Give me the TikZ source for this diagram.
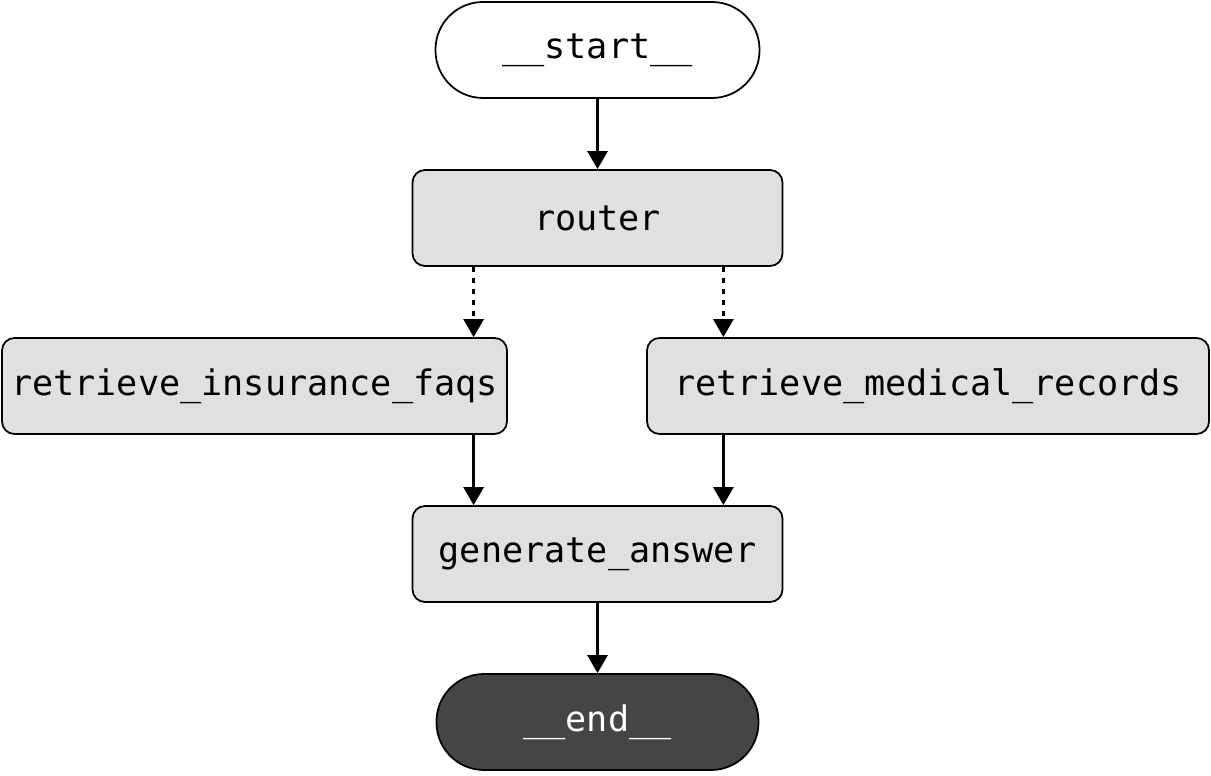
\documentclass[tikz,border=0pt]{standalone}
\usepackage{fontspec}
\setmonofont{DejaVu Sans Mono}
\usetikzlibrary{arrows.meta}

\definecolor{nodegray}{HTML}{E0E0E0}
\definecolor{endgray}{HTML}{454545}

\tikzset{
    graphnode/.style={draw=black, line width=1pt, fill=nodegray, rounded corners=0.25cm,
        minimum height=1.92cm, inner sep=0pt, font=\ttfamily\fontsize{20}{24}\selectfont},
    termnode/.style={graphnode, rounded corners=0.95cm},
    flow/.style={line width=1.6pt, -{Triangle[length=0.36cm,width=0.4cm]}},
    maybe/.style={flow, dash pattern=on 0.1cm off 0.12cm},
}

\begin{document}
\begin{tikzpicture}
    \useasboundingbox (0,0) rectangle (24.22,15.5);

    \node[termnode, fill=white, minimum width=6.48cm] (start) at (11.95,14.5) {\_\_start\_\_};
    \node[graphnode, minimum width=7.4cm] (router) at (11.95,11.14) {router};
    \node[graphnode, minimum width=10.1cm] (ins) at (5.09,7.78) {retrieve\_insurance\_faqs};
    \node[graphnode, minimum width=11.24cm] (med) at (18.56,7.78) {retrieve\_medical\_records};
    \node[graphnode, minimum width=7.4cm] (gen) at (11.95,4.42) {generate\_answer};
    \node[termnode, fill=endgray, text=white, minimum width=6.44cm] (end) at (11.95,1.06) {\_\_end\_\_};

    \draw[flow] (start) -- (router);

    % conditional branches out of the router
    \draw[maybe] ([xshift=1.24cm]router.south west) -- ([xshift=1.24cm]router.south west |- ins.north);
    \draw[maybe] ([xshift=-1.2cm]router.south east) -- ([xshift=-1.2cm]router.south east |- med.north);

    \draw[flow] ([xshift=1.24cm]gen.north west |- ins.south) -- ([xshift=1.24cm]gen.north west);
    \draw[flow] ([xshift=-1.2cm]gen.north east |- med.south) -- ([xshift=-1.2cm]gen.north east);

    \draw[flow] (gen) -- (end);
\end{tikzpicture}
\end{document}
